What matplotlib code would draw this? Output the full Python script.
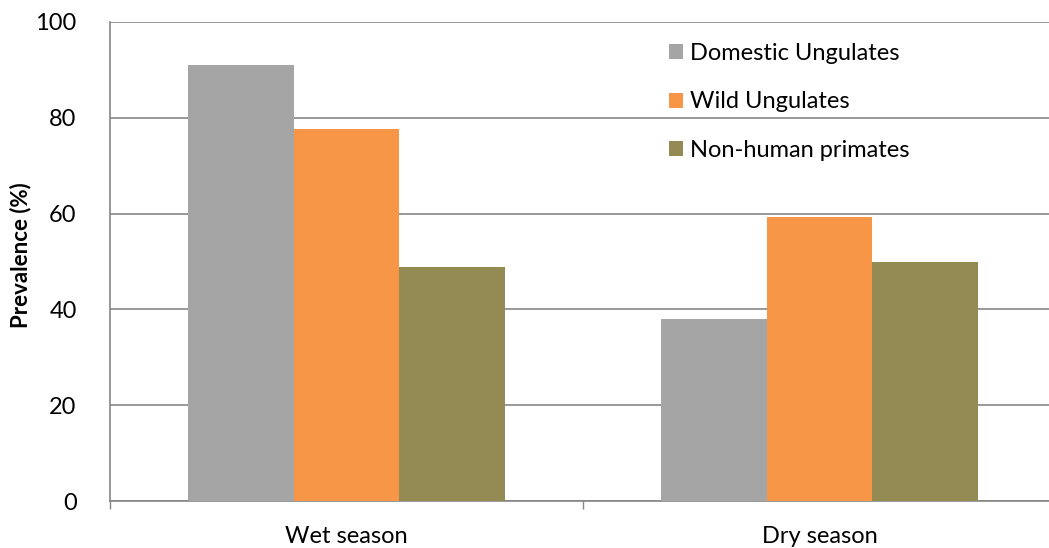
import matplotlib
matplotlib.use("Agg")
import matplotlib.pyplot as plt
import numpy as np

categories = ["Wet season", "Dry season"]
series_names = ["Domestic Ungulates", "Wild Ungulates", "Non-human primates"]
domestic = [91.0, 38.0]
wild = [77.6, 59.3]
primates = [48.9, 49.9]
colors = ["#A5A5A5", "#F79646", "#948A54"]
yticks = [0, 20, 40, 60, 80, 100]

plt.rcParams['font.family'] = ['Lato', 'DejaVu Sans']

fig = plt.figure(figsize=(10.49, 5.48), dpi=100)
ax = fig.add_axes([110/1049, 1-501/548, (1056-110)/1049, (501-22)/548])

x = np.arange(len(categories))
w = 0.223
for i, (vals, name) in enumerate(zip([domestic, wild, primates], series_names)):
    ax.bar(x + (i-1)*w, vals, width=w, color=colors[i], label=name, zorder=3)

ax.set_xlim(-0.5, 1.5)
ax.set_ylim(0, 100)
ax.set_yticks(yticks)
ax.set_yticklabels([str(t) for t in yticks], fontsize=17)
ax.yaxis.grid(True, color="#868686", linewidth=1.2, zorder=0)
ax.tick_params(axis='y', length=0, pad=24)

ax.set_xticks(x)
ax.set_xticklabels(categories, fontsize=17)
ax.tick_params(axis='x', length=0, pad=18)
ax.set_xticks([0.5, -0.5, 1.5], minor=True)
ax.tick_params(axis='x', which='minor', length=6, color="#868686", width=1)

for s in ['top', 'right']:
    ax.spines[s].set_visible(False)
for s in ['left', 'bottom']:
    ax.spines[s].set_color("#868686")
    ax.spines[s].set_linewidth(1.2)

fig.text(21/1049, 1-255/548, "Prevalence (%)", fontsize=16, fontweight='bold',
         rotation=90, ha='center', va='center')

leg = ax.legend(loc='upper left', bbox_to_anchor=(648/1049, 1-22/548),
                bbox_transform=fig.transFigure, frameon=False, fontsize=17,
                handlelength=0.6, handleheight=0.6, handletextpad=0.3,
                labelspacing=1.15)

fig.savefig("out.png", dpi=100)
